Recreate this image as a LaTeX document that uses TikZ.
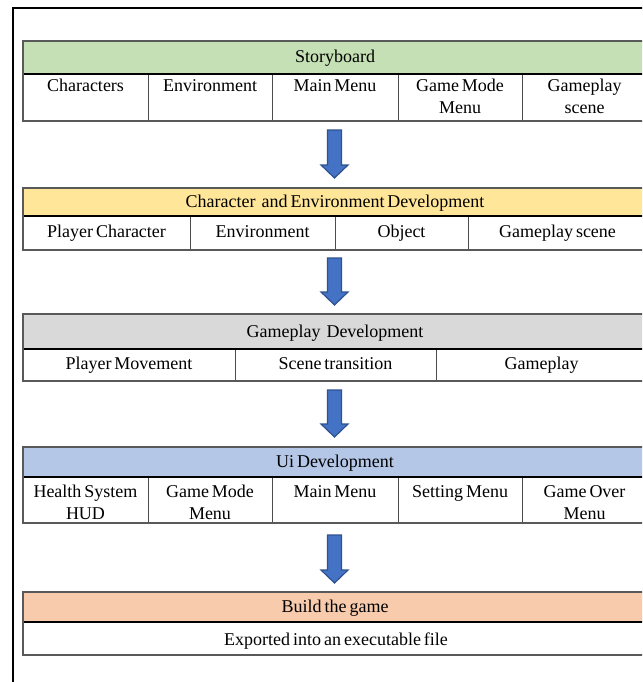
\documentclass[tikz,border=0pt]{standalone}
\usepackage{fontspec}
\setmainfont{Liberation Serif}
\usetikzlibrary{calc}
\definecolor{hgreen}{HTML}{C5E0B4}
\definecolor{hyellow}{HTML}{FFE699}
\definecolor{hgray}{HTML}{D9D9D9}
\definecolor{hblue}{HTML}{B4C7E7}
\definecolor{horange}{HTML}{F8CBAD}
\definecolor{afill}{HTML}{4472C4}
\definecolor{aedge}{HTML}{2F528F}
\newcommand\celltextfont{\fontsize{18}{22}\selectfont}
\newcommand\narrowspaces{\spaceskip=3pt\xspaceskip=3pt\relax}
\begin{document}
\begin{tikzpicture}[x=1pt,y=-1pt,
  outer/.style={draw=black!65, line width=1.4pt},
  hline/.style={draw=black, line width=1.3pt},
  divider/.style={draw=black!70, line width=0.8pt},
  txt/.style={inner sep=0pt, anchor=base, align=center, text width=#1,
    font=\celltextfont, execute at begin node=\narrowspaces},
  txt/.default=122pt,
  barrow/.style={fill=afill, draw=aedge, line width=1.2pt, line join=miter},
  frameline/.style={draw=black, line width=1.5pt}]
\useasboundingbox (0,0) rectangle (642,682);
\clip (0,0) rectangle (642,682);
\fill[white] (0,0) rectangle (642,682);
% outer frame
\draw[frameline] (13,690) -- (13,8) -- (660,8);

% ---------- Table 1 ----------
\fill[hgreen] (23,41) rectangle (660,74);
\node[txt=400pt] (t1h) at (335,63) {Storyboard};
\draw[divider] (148,74) -- (148,121) (272,74) -- (272,121) (398,74) -- (398,121) (522,74) -- (522,121);
\draw[hline] (23,74) -- (660,74);
\draw[outer] (660,41) -- (23,41) -- (23,121) -- (660,121);
\node[txt] (t1c1) at (85.5,92) {Characters};
\node[txt] (t1c2) at (210,92) {Environment};
\node[txt] (t1c3) at (335,92) {Main Menu};
\node[txt] (t1c4) at (460,92) {Game Mode\\Menu};
\node[txt] (t1c5) at (584.5,92) {Gameplay\\scene};

% ---------- Table 2 ----------
\fill[hyellow] (23,188) rectangle (660,216);
\node[txt=500pt] (t2h) at (335,207.5) {Character\ \ and Environment Development};
\draw[divider] (190,216) -- (190,250) (335,216) -- (335,250) (468,216) -- (468,250);
\draw[hline] (23,216) -- (660,216);
\draw[outer] (660,188) -- (23,188) -- (23,250) -- (660,250);
\node[txt=160pt] (t2c1) at (106.5,237) {Player Character};
\node[txt] (t2c2) at (262.5,237) {Environment};
\node[txt] (t2c3) at (401.5,237) {Object};
\node[txt=170pt] (t2c4) at (557.5,237) {Gameplay scene};

% ---------- Table 3 ----------
\fill[hgray] (23,314) rectangle (660,349);
\node[txt=400pt] (t3h) at (335,337) {Gameplay\ \ Development};
\draw[divider] (235,349) -- (235,381) (436,349) -- (436,381);
\draw[hline] (23,349) -- (660,349);
\draw[outer] (660,314) -- (23,314) -- (23,381) -- (660,381);
\node[txt=200pt] (t3c1) at (129,369) {Player Movement};
\node[txt=200pt] (t3c2) at (335.5,369) {Scene transition};
\node[txt=200pt] (t3c3) at (541.5,369) {Gameplay};

% ---------- Table 4 ----------
\fill[hblue] (23,447) rectangle (660,477);
\node[txt=400pt] (t4h) at (335,467.5) {Ui Development};
\draw[divider] (148,477) -- (148,523) (272,477) -- (272,523) (398,477) -- (398,523) (522,477) -- (522,523);
\draw[hline] (23,477) -- (660,477);
\draw[outer] (660,447) -- (23,447) -- (23,523) -- (660,523);
\node[txt] (t4c1) at (85.5,497) {Health System\\HUD};
\node[txt] (t4c2) at (210,497) {Game Mode\\Menu};
\node[txt] (t4c3) at (335,497) {Main Menu};
\node[txt] (t4c4) at (460,497) {Setting Menu};
\node[txt] (t4c5) at (584.5,497) {Game Over\\Menu};

% ---------- Table 5 ----------
\fill[horange] (23,592) rectangle (660,622);
\node[txt=400pt] (t5h) at (335,612) {Build the game};
\draw[hline] (23,622) -- (660,622);
\draw[outer] (660,592) -- (23,592) -- (23,655) -- (660,655);
\node[txt=500pt] (t5c1) at (336,645) {Exported into an executable file};

% ---------- Arrows ----------
\coordinate (a1s) at (334.5,130); \coordinate (a1e) at (334.5,178);
\coordinate (a2s) at (334.5,258); \coordinate (a2e) at (334.5,305);
\coordinate (a3s) at (334.5,390); \coordinate (a3e) at (334.5,437);
\coordinate (a4s) at (334.5,535); \coordinate (a4e) at (334.5,583);
\foreach \s/\e in {a1s/a1e,a2s/a2e,a3s/a3e,a4s/a4e}{
  \draw[barrow] ($(\s)+(-7,0)$) -- ($(\e)+(-7,-13)$) -- ($(\e)+(-13.5,-13)$) -- (\e)
    -- ($(\e)+(13.5,-13)$) -- ($(\e)+(7,-13)$) -- ($(\s)+(7,0)$) -- cycle;
}
\end{tikzpicture}
\end{document}
